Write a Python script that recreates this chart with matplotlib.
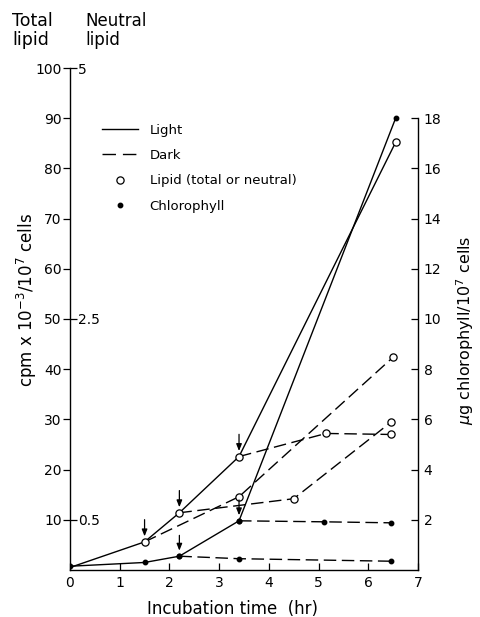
import matplotlib
matplotlib.use("Agg")
import matplotlib.pyplot as plt
from matplotlib.lines import Line2D

# Lipid labelling (cpm x 10^-3 / 10^7 cells, total lipid scale)
light_time = [0, 1.5, 2.2, 3.4, 6.55]
light_lipid = [0.5, 5.6, 11.4, 22.6, 85.2]
light_chl = [0.15, 0.3, 0.55, 1.96, 18.0]

# Dark transfers: each starts at a light sample (arrows)
dark1_time = [1.5, 3.4, 6.5]
dark1_lipid = [5.6, 14.6, 42.4]
dark2_time = [2.2, 4.5, 6.45]
dark2_lipid = [11.4, 14.2, 29.4]
dark3_time = [3.4, 5.15, 6.45]
dark3_lipid = [22.6, 27.2, 27.0]

# Chlorophyll after transfer to dark (ug / 10^7 cells)
dchl1_time = [2.2, 3.4, 6.45]
dchl1_chl = [0.55, 0.45, 0.35]
dchl2_time = [3.4, 5.1, 6.45]
dchl2_chl = [1.96, 1.92, 1.88]

lipid_arrow_idx = [1, 2, 3]
chl_arrow_idx = [2, 3]

x_ticks = [0, 1, 2, 3, 4, 5, 6, 7]
total_ticks = [10, 20, 30, 40, 50, 60, 70, 80, 90, 100]
neutral_ticks = [0.5, 2.5, 5]
chl_ticks = [2, 4, 6, 8, 10, 12, 14, 16, 18]

plt.rcParams['font.family'] = 'DejaVu Sans'
LW = 1.0
DASH = (0, (9, 4))

fig = plt.figure(figsize=(4.8, 6.17), dpi=100)
ax = fig.add_axes([70 / 480, 47 / 617, 348 / 480, 502 / 617])
ax_chl = ax.twinx()
ax_neu = ax.twinx()

ax.set_xlim(0, 7)
ax.set_ylim(0, 100)
ax_chl.set_ylim(0, 20)
ax_neu.set_ylim(0, 5)

open_kw = dict(marker='o', ms=5.2, mfc='white', mec='black', mew=0.9)
dot_kw = dict(marker='o', ms=3.2, mfc='black', mec='black')

# light curves
ax.plot(light_time, light_lipid, color='black', lw=LW, zorder=3)
ax.plot(light_time[1:], light_lipid[1:], ls='none', zorder=4, **open_kw)
ax_chl.plot(light_time, light_chl, color='black', lw=LW, zorder=3, **dot_kw)

# dark curves
for t, v in [(dark1_time, dark1_lipid), (dark2_time, dark2_lipid),
             (dark3_time, dark3_lipid)]:
    ax.plot(t, v, color='black', lw=LW, ls=DASH, zorder=2)
    ax.plot(t[1:], v[1:], ls='none', zorder=4, **open_kw)
for t, v in [(dchl1_time, dchl1_chl), (dchl2_time, dchl2_chl)]:
    ax_chl.plot(t, v, color='black', lw=LW, ls=DASH, zorder=2, **dot_kw)

# arrows marking transfer to dark
arrow = dict(arrowstyle='-|>,head_length=0.45,head_width=0.18',
             color='black', lw=0.9, shrinkA=0, shrinkB=4, mutation_scale=9)
for i in lipid_arrow_idx:
    ax.annotate('', xy=(light_time[i], light_lipid[i]), xytext=(0, 16),
                textcoords='offset points', arrowprops=arrow)
for i in chl_arrow_idx:
    ax_chl.annotate('', xy=(light_time[i], light_chl[i]), xytext=(0, 15),
                    textcoords='offset points', arrowprops=arrow)

# spines and ticks
for a in (ax, ax_chl, ax_neu):
    a.spines['top'].set_visible(False)
ax.spines['right'].set_visible(False)
ax.spines['left'].set_bounds(0, 100)
ax.spines['bottom'].set_bounds(0, 7)
ax_chl.spines['left'].set_visible(False)
ax_chl.spines['bottom'].set_visible(False)
ax_chl.spines['right'].set_bounds(0, 18)
for a in (ax_neu,):
    a.spines['left'].set_visible(False)
    a.spines['bottom'].set_visible(False)
    a.spines['right'].set_visible(False)
    a.spines['right'].set_position(('axes', 0))
for s in list(ax.spines.values()) + list(ax_chl.spines.values()):
    s.set_linewidth(1.0)

ax.set_xticks(x_ticks)
ax.set_xticklabels([str(v) for v in x_ticks])
ax.set_yticks(total_ticks)
ax.set_yticklabels([str(v) for v in total_ticks])
ax.tick_params(axis='x', direction='in', length=5, width=0.9, labelsize=10, pad=4)
ax.tick_params(axis='y', direction='out', length=5, width=0.9, labelsize=10, pad=1)

ax_chl.set_yticks(chl_ticks)
ax_chl.set_yticklabels([str(v) for v in chl_ticks])
ax_chl.tick_params(axis='y', direction='in', length=5, width=0.9, labelsize=10, pad=4)

ax_neu.set_yticks(neutral_ticks)
ax_neu.set_yticklabels(['0.5', '2.5', '5'])
ax_neu.tick_params(axis='y', direction='out', length=5, width=0.9, labelsize=10, pad=1)

ax.set_xlabel('Incubation time  (hr)', fontsize=12)
ax.xaxis.label.set_va('center')
ax.xaxis.set_label_coords(0.468, -0.078)
ax.set_ylabel('cpm x 10$^{-3}$/10$^{7}$ cells', fontsize=12)
ax.yaxis.label.set_va('center')
ax.yaxis.set_label_coords(-0.125, 0.538)
ax_chl.set_ylabel('$\\mu$g chlorophyll/10$^{7}$ cells', fontsize=11.5, rotation=90)
ax_chl.yaxis.label.set_va('center')
ax_chl.yaxis.set_label_coords(1.136, 0.478)

fig.text(12 / 480, 1 - 12 / 617, 'Total\nlipid', fontsize=12.5, va='top', ha='left',
         linespacing=1.05)
fig.text(85 / 480, 1 - 12 / 617, 'Neutral\nlipid', fontsize=12, va='top', ha='left',
         linespacing=1.05)

handles = [
    Line2D([], [], color='black', lw=LW),
    Line2D([], [], color='black', lw=LW, ls=(0, (9.7, 5))),
    Line2D([], [], ls='none', **open_kw),
    Line2D([], [], ls='none', **dot_kw),
]
labels = ['Light', 'Dark', 'Lipid (total or neutral)', 'Chlorophyll']
ax.legend(handles, labels, loc='upper left', bbox_to_anchor=(0.092, 0.889),
          frameon=False, fontsize=9.5, handlelength=2.7, handletextpad=0.9,
          labelspacing=0.93, borderpad=0, borderaxespad=0)

fig.savefig('out.png', dpi=100)
